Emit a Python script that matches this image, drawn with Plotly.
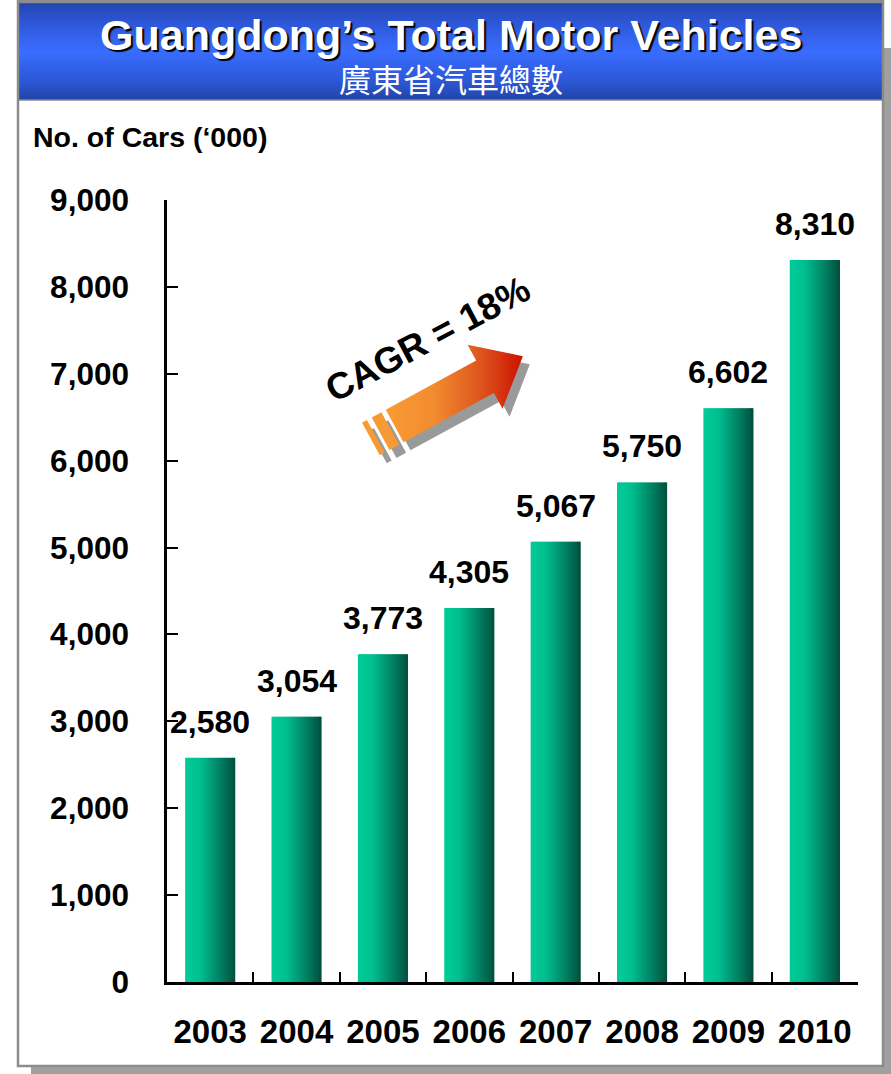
import math
import plotly.graph_objects as go

# ---- data ----
years = ["2003", "2004", "2005", "2006", "2007", "2008", "2009", "2010"]
vehicles = [2580, 3054, 3773, 4305, 5067, 5750, 6602, 8310]
y_ticks = [0, 1000, 2000, 3000, 4000, 5000, 6000, 7000, 8000, 9000]
title_en = "Guangdong’s Total Motor Vehicles"
title_zh = "廣東省汽車總數"
axis_title = "No. of Cars (‘000)"
cagr_text = "CAGR = 18%"

W, H = 891, 1074
FONT = "Liberation Sans, Arial, sans-serif"
CJK = "Noto Sans CJK TC, Noto Sans CJK SC, sans-serif"


def px_x(x):
    return x / W


def px_y(y):
    return 1 - y / H


def lerp_color(stops, t):
    for (t0, c0), (t1, c1) in zip(stops, stops[1:]):
        if t0 <= t <= t1:
            f = (t - t0) / (t1 - t0) if t1 > t0 else 0
            return "rgb(%d,%d,%d)" % tuple(round(a + (b - a) * f) for a, b in zip(c0, c1))
    return "rgb(%d,%d,%d)" % stops[-1][1]


fig = go.Figure()

# ---- bars: horizontal teal gradient built from thin vertical slices ----
bar_width = 0.58
n_slices = 28
bar_stops = [(0.0, (0, 204, 153)), (0.3, (0, 190, 143)), (0.7, (0, 128, 98)), (1.0, (0, 80, 62))]
slice_w = bar_width / n_slices
for i in range(n_slices):
    t = (i + 0.5) / n_slices
    fig.add_trace(go.Bar(
        x=years, y=vehicles,
        width=slice_w * (1.6 if i < n_slices - 1 else 1.0),
        offset=-bar_width / 2 + i * slice_w,
        marker=dict(color=lerp_color(bar_stops, t), line=dict(width=0)),
        hoverinfo="skip", showlegend=False,
        xaxis="x", yaxis="y",
    ))

# ---- decorative layer in pixel units (x2/y2 span the whole page) ----
def scr(points):
    xs = [p[0] for p in points]
    ys = [H - p[1] for p in points]
    return xs + [xs[0]], ys + [ys[0]]

# title bar with vertical blue gradient
tb_x0, tb_x1, tb_y0, tb_y1 = 18.5, 882.5, 2.5, 100
bx, by = scr([(tb_x0, tb_y0), (tb_x1, tb_y0), (tb_x1, tb_y1), (tb_x0, tb_y1)])
fig.add_trace(go.Scatter(
    x=bx, y=by, mode="lines", fill="toself",
    line=dict(color="#8a8a8a", width=1.5),
    fillgradient=dict(type="vertical", colorscale=[
        [0.0, "#2343a8"], [0.2, "#2c58d8"], [0.5, "#3a6dff"], [0.8, "#2d56d6"], [1.0, "#2445ad"]]),
    hoverinfo="skip", showlegend=False, xaxis="x2", yaxis="y2",
))

# CAGR arrow, defined along its own axis then rotated onto the page
tail = (392.0, 427.5)
ang = math.radians(-28.6)
u = (math.cos(ang), math.sin(ang))
nrm = (-math.sin(ang), math.cos(ang))


def local(a, b, dx=0.0, dy=0.0):
    return (tail[0] + a * u[0] + b * nrm[0] + dx, tail[1] + a * u[1] + b * nrm[1] + dy)


hw, hh = 18.5, 36.5
shaft_a0, head_a, tip_a = 3, 106, 149
arrow_local = [(shaft_a0, -hw), (head_a, -hw), (head_a, -hh), (tip_a, 0),
               (head_a, hh), (head_a, hw), (shaft_a0, hw)]
stripes_local = [[(-13, -hw), (-2, -hw), (-2, hw), (-13, hw)],
                 [(-24, -hw), (-18.5, -hw), (-18.5, hw), (-24, hw)]]

sh_dx, sh_dy = 7, 8
for poly in [arrow_local] + stripes_local:
    sx, sy = scr([local(a, b, sh_dx, sh_dy) for a, b in poly])
    fig.add_trace(go.Scatter(x=sx, y=sy, mode="lines", fill="toself",
                             line=dict(width=0, color="#9a9a9a"), fillcolor="#9a9a9a",
                             hoverinfo="skip", showlegend=False, xaxis="x2", yaxis="y2"))

for poly in stripes_local:
    sx, sy = scr([local(a, b) for a, b in poly])
    fig.add_trace(go.Scatter(x=sx, y=sy, mode="lines", fill="toself",
                             line=dict(width=0, color="#f89a34"), fillcolor="#f89a34",
                             hoverinfo="skip", showlegend=False, xaxis="x2", yaxis="y2"))

ax_, ay_ = scr([local(a, b) for a, b in arrow_local])
fig.add_trace(go.Scatter(
    x=ax_, y=ay_, mode="lines", fill="toself", line=dict(width=0, color="#f0882e"),
    fillgradient=dict(type="horizontal", colorscale=[
        [0.0, "#f99b33"], [0.35, "#f28c30"], [0.7, "#de531d"], [1.0, "#cc1100"]]),
    hoverinfo="skip", showlegend=False, xaxis="x2", yaxis="y2",
))

# ---- annotations ----
annotations = []
for i, v in enumerate(vehicles):
    annotations.append(dict(
        x=i, y=v, xref="x", yref="y", text=f"{v:,}", showarrow=False,
        yanchor="bottom", yshift=16,
        font=dict(family=FONT, size=32, color="#000000", weight="bold"),
    ))

annotations += [
    dict(x=0.506, y=px_y(35), xref="paper", yref="paper", text=title_en, showarrow=False,
         xanchor="center", yanchor="middle",
         font=dict(family=FONT, size=43, color="#ffffff", weight="bold",
                   shadow="2px 2px 1px #000000")),
    dict(x=0.506, y=px_y(78), xref="paper", yref="paper", text=title_zh, showarrow=False,
         xanchor="center", yanchor="middle",
         font=dict(family=CJK, size=32, color="#ffffff")),
    dict(x=px_x(31), y=px_y(137), xref="paper", yref="paper", text=axis_title, showarrow=False,
         xanchor="left", yanchor="middle",
         font=dict(family=FONT, size=28.5, color="#000000", weight="bold")),
    dict(x=427, y=H - 339, xref="x2", yref="y2", text=cagr_text, showarrow=False,
         xanchor="center", yanchor="middle", textangle=-28,
         font=dict(family=FONT, size=37, color="#000000", weight="bold")),
]

# ---- frame: page panel with drop shadow ----
shapes = [
    dict(type="rect", xref="paper", yref="paper", layer="below",
         x0=px_x(882), x1=px_x(891), y0=px_y(1074), y1=px_y(48),
         fillcolor="#a0a0a0", line=dict(width=0)),
    dict(type="rect", xref="paper", yref="paper", layer="below",
         x0=px_x(31), x1=px_x(891), y0=px_y(1074), y1=px_y(1066),
         fillcolor="#a0a0a0", line=dict(width=0)),
    dict(type="rect", xref="paper", yref="paper", layer="below",
         x0=px_x(18), x1=px_x(883), y0=px_y(1066), y1=px_y(1),
         fillcolor="#ffffff", line=dict(color="#8c8c8c", width=2.5)),
]

fig.update_layout(
    width=W, height=H,
    margin=dict(l=0, r=0, t=0, b=0, pad=0, autoexpand=False),
    paper_bgcolor="#ffffff",
    plot_bgcolor="rgba(0,0,0,0)",
    barmode="overlay",
    showlegend=False,
    font=dict(family=FONT, color="#000000"),
    xaxis=dict(
        domain=[px_x(167), px_x(858)], type="category", categoryorder="array",
        categoryarray=years, range=[-0.5, len(years) - 0.5],
        showline=True, linecolor="#000000", linewidth=2.5, mirror=False,
        ticks="inside", ticklen=10, tickwidth=2, tickcolor="#000000",
        tickson="boundaries", showgrid=False, zeroline=False,
        tickfont=dict(family=FONT, size=33, color="#000000", weight="bold"),
        ticklabelstandoff=19, fixedrange=True, automargin=False,
    ),
    yaxis=dict(
        domain=[px_y(982), px_y(200)], range=[0, 9000],
        tickvals=y_ticks, tickformat=",",
        showline=True, linecolor="#000000", linewidth=2.5,
        ticks="inside", ticklen=11, tickwidth=2, tickcolor="#000000",
        showgrid=False, zeroline=False,
        tickfont=dict(family=FONT, size=31.5, color="#000000", weight="bold"),
        ticklabelstandoff=29, fixedrange=True, automargin=False,
    ),
    xaxis2=dict(domain=[0, 1], range=[0, W], visible=False, anchor="y2", fixedrange=True),
    yaxis2=dict(domain=[0, 1], range=[0, H], visible=False, anchor="x2", fixedrange=True),
    annotations=annotations,
    shapes=shapes,
)

fig.write_html("out.html", config={"displayModeBar": False})
